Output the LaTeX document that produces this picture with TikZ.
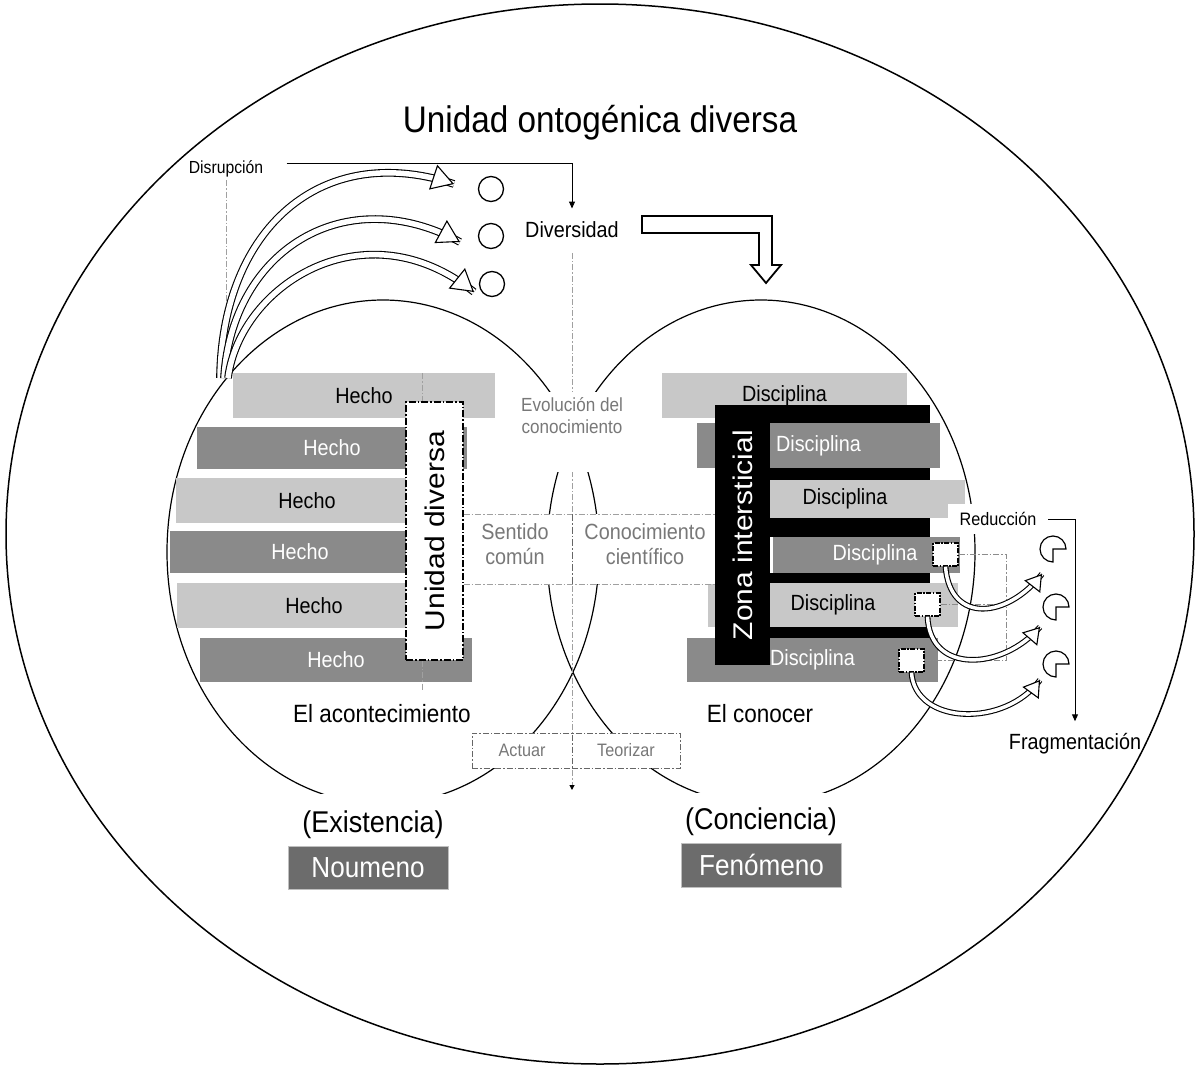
\documentclass[tikz,border=0pt]{standalone}
\usepackage{fontspec}
\setmainfont{Liberation Sans}[FakeStretch=0.9]
\newfontfamily\rectfont{Liberation Sans}
\usetikzlibrary{arrows.meta,calc}

\definecolor{grisclaro}{RGB}{200,200,200}
\definecolor{grisoscuro}{RGB}{138,138,138}
\definecolor{grisnou}{RGB}{108,108,108}
\definecolor{gristexto}{RGB}{120,120,120}
\definecolor{grislinea}{RGB}{160,160,160}

\newcommand{\tam}[2]{\fontsize{#1}{#2}\selectfont}
% flecha curva hueca: distancia, inicio, control 1, control 2, punta, largo/ancho
\newcommand{\curvaflecha}[6]{%
  \draw[banda=#1] (#2) .. controls (#3) and (#4) .. (#5);
  \draw[punta=#6] ($(#5)!1pt!(#4)$) -- (#5);}

\tikzset{
  banda/.style={line width=1.1pt, double=white, double distance=#1},
  punta/.style args={#1/#2}{line width=1.1pt, -{Triangle[open,fill=white,length=#1,width=#2]}},
  barclaro/.style={fill=grisclaro, inner sep=0pt, font=\tam{22}{26}},
  baroscuro/.style={fill=grisoscuro, inner sep=0pt, text=white, font=\tam{22}{26}},
  rayagris/.style={grislinea, line width=1pt, dash pattern=on 6pt off 2pt on 1.5pt off 2pt},
  rayanegra/.style={line width=1.4pt, dash pattern=on 7pt off 2pt on 1.5pt off 2pt},
  celda/.style={draw=black!60, line width=1pt, dash pattern=on 6pt off 2pt on 1.5pt off 2pt,
    fill=white, text=gristexto, font=\tam{18}{22}, minimum height=35, inner sep=0pt},
  cuadro/.style={draw, fill=white, line width=1.3pt, dash pattern=on 5pt off 1.5pt on 1.5pt off 1.5pt,
    minimum width=25, minimum height=23, inner sep=0pt},
  caja/.style={fill=grisnou, draw=black!25, line width=1pt, text=white,
    minimum width=160, minimum height=43, font=\tam{29}{32}},
}

\begin{document}
\begin{tikzpicture}[x=1pt,y=-1pt]
\useasboundingbox (0,0) rectangle (1200,1068);
% Elipse exterior y titulo
\draw[line width=1.5pt] (600,534) circle[x radius=594, y radius=530];
\node[font=\tam{37}{42}, anchor=base] (titulo) at (600,132) {Unidad ontogénica diversa};

% Elipses del acontecimiento y del conocer
\draw[line width=1.2pt] (383,552) circle[x radius=216, y radius=252];
\draw[line width=1.2pt] (761,552) circle[x radius=214, y radius=252];

% Disrupcion y diversidad
\node[font=\tam{17.5}{20}, anchor=base] (disr) at (226,173) {Disrupción};
\draw[rayagris] (disr.south) -- (disr.south |- 0,370);
\node[font=\tam{22}{26}, anchor=base] (divers) at (572,237) {Diversidad};
\draw[line width=1pt, shorten >=9pt, -{Triangle[length=7pt,width=6pt]}]
  ($(disr.east)+(20,-5)$) -| (divers.north);
\draw[line width=1.3pt] (491,189) circle[radius=12.5];
\draw[line width=1.3pt] (491,236) circle[radius=12.5];
\draw[line width=1.3pt] (492,284) circle[radius=12.5];
\curvaflecha{5.5pt}{220,378}{222,230}{320,140}{454,184}{22/26}
\curvaflecha{5.5pt}{224,378}{232,250}{345,180}{460,242}{22/26}
\curvaflecha{5.5pt}{228,378}{240,285}{365,205}{474,292}{22/26}
\draw[line width=1.8pt, fill=white] (642,216) -- (772,216) -- (772,265) -- (781,265)
  -- (766,283) -- (751,265) -- (759,265) -- (759,233) -- (642,233) -- cycle;

% Eje central
\coordinate (finvert) at (572,790);
\draw[rayagris, -{Triangle[length=5pt,width=5pt,color=black]}] (divers.south) ++(0,12) -- (finvert);
\fill[white] (515,392) rectangle (628,472);
\node[text=gristexto, align=center, font=\tam{19}{22}] (evol) at (572,416) {Evolución del\\conocimiento};

% Hechos
\node[barclaro, minimum width=262, minimum height=45] (h1) at (364,395.5) {Hecho};
\node[baroscuro, minimum width=270, minimum height=42] (h2) at (332,448) {Hecho};
\node[barclaro, minimum width=262, minimum height=45] (h3) at (307,500.5) {Hecho};
\node[baroscuro, minimum width=260, minimum height=42] (h4) at (300,552) {Hecho};
\node[barclaro, minimum width=274, minimum height=45] (h5) at (314,605.5) {Hecho};
\node[baroscuro, minimum width=272, minimum height=44] (h6) at (336,660) {Hecho};
\draw[rayagris] (422,373) -- (422,690);
\node[draw, rayanegra, fill=white, minimum width=57, minimum height=258, inner sep=0pt] (ud) at (434.5,531) {};
\node[rotate=90, font=\rectfont\tam{30}{30}] (udtxt) at (ud.center) {\scalebox{1}[0.9]{Unidad diversa}};

% Disciplinas y zona intersticial
\node[barclaro, minimum width=245, minimum height=45] (d1) at (784.5,395.5) {Disciplina};
\node[baroscuro, minimum width=243, minimum height=45] (d2) at (818.5,445.5) {Disciplina};
\node[barclaro, minimum width=240, minimum height=38] (d3) at (845,499) {Disciplina};
\node[baroscuro, minimum width=187, minimum height=36] (d4) at (866.5,555) {\hspace*{17pt}Disciplina};
\node[barclaro, minimum width=250, minimum height=44] (d5) at (833,605) {Disciplina};
\node[baroscuro, minimum width=251, minimum height=44] (d6) at (812.5,660) {Disciplina};
\node[fill=black, minimum width=55, minimum height=260, inner sep=0pt] (zona) at (742.5,535) {};
\fill (770,405) rectangle (930,423);
\fill (770,468) rectangle (930,480);
\fill (770,518) rectangle (930,537);
\fill (770,573) rectangle (930,583);
\fill (770,627) rectangle (930,638);
\node[rotate=90, text=white, font=\rectfont\tam{30}{30}] (zonatxt) at (zona.center) {\scalebox{1}[0.9]{Zona intersticial}};

% Sentido comun y conocimiento cientifico
\fill[white] (ud.east |- 0,514) rectangle (zona.west |- 0,584);
\draw[rayagris] (ud.east |- 0,514) -- (zona.west |- 0,514);
\draw[rayagris] (ud.east |- 0,584) -- (zona.west |- 0,584);
\draw[rayanegra, black!60, line width=1pt] (572,514) -- (572,584);
\node[text=gristexto, align=center, font=\tam{22}{25}] (sentido) at (515,544) {Sentido\\común};
\node[text=gristexto, align=center, font=\tam{22}{25}] (cientif) at (645,544) {Conocimiento\\científico};

% Actuar y teorizar
\node[celda, minimum width=100] (actuar) at (522,750.5) {Actuar};
\node[celda, minimum width=108] (teorizar) at (626,750.5) {Teorizar};

% Reduccion y fragmentacion
\node[fill=white, font=\tam{18}{20}, minimum width=100, minimum height=30, inner sep=0pt] (reduc) at (998,519) {Reducción};
\node[font=\tam{22}{26}, anchor=base] (frag) at (1075,749) {Fragmentación};
\draw[line width=1pt, shorten >=8pt, -{Triangle[length=7pt,width=6pt]}] (reduc.east) -| (frag.north);
\node[cuadro] (cuad1) at (945.5,554.5) {};
\node[cuadro] (cuad2) at (927.5,604.5) {};
\node[cuadro] (cuad3) at (911.5,660.5) {};
\draw[rayagris, black!45] (cuad1.east) -- ++(48,0) |- (cuad3.east);
\draw[rayagris, black!45] (cuad2.east) -- (cuad2.east -| 1006,0);
\curvaflecha{3.5pt}{cuad1.south}{950,625}{1008,618}{1042,574}{16/20}
\curvaflecha{3.5pt}{cuad2.south}{930,675}{1003,670}{1040,627}{16/20}
\curvaflecha{3.5pt}{cuad3.south}{915,725}{1005,728}{1040,680}{16/20}
\draw[line width=1.2pt] (1053,549) -- ++(0,13) arc[start angle=90, end angle=360, radius=13] -- cycle;
\draw[line width=1.2pt] (1056,607) -- ++(0,13) arc[start angle=90, end angle=360, radius=13] -- cycle;
\draw[line width=1.2pt] (1056,664) -- ++(0,13) arc[start angle=90, end angle=360, radius=13] -- cycle;

% Etiquetas inferiores
\node[font=\tam{25}{28}, anchor=base] (acont) at (382,722) {El acontecimiento};
\node[font=\tam{25}{28}, anchor=base] (conocer) at (760,722) {El conocer};
\node[font=\tam{30}{34}, anchor=base, fill=white, text height=38, text depth=8, inner ysep=0pt] (exist) at (373,832) {(Existencia)};
\node[font=\tam{30}{34}, anchor=base, fill=white, text height=36, text depth=8, inner ysep=0pt] (concien) at (761,829) {(Conciencia)};
\node[caja] (noumeno) at (368,868) {Noumeno};
\node[caja, minimum height=44] (fenomeno) at (761.5,865) {Fenómeno};
\end{tikzpicture}
\end{document}
